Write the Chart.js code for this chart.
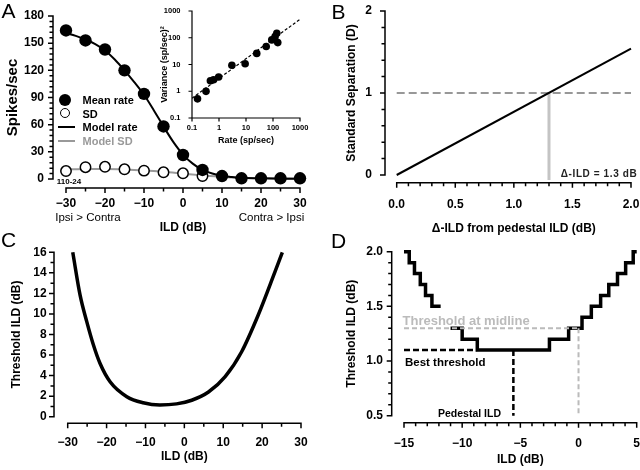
<!DOCTYPE html>
<html><head><meta charset="utf-8">
<script src="https://cdn.jsdelivr.net/npm/chart.js@4.4.1/dist/chart.umd.min.js"></script>
<style>
html,body{margin:0;padding:0;background:#fff;}
#wrap{position:relative;width:640px;height:470px;overflow:hidden;background:#fff;font-family:'Liberation Sans',Arial,sans-serif;}
#wrap canvas{position:absolute;}
.ov{position:absolute;white-space:nowrap;line-height:1;z-index:5;}
.c{transform:translate(-50%,-50%);}
.lv{transform:translate(0,-50%);}
</style></head><body>
<div id="wrap">
  <div class="ov c" style="left:8.5px;top:10px;font-size:21px;">A</div>
  <div class="ov c" style="left:338.5px;top:10.5px;font-size:21px;">B</div>
  <div class="ov c" style="left:8.5px;top:239px;font-size:21px;">C</div>
  <div class="ov c" style="left:338.5px;top:240px;font-size:21px;">D</div>

  <div class="ov" style="left:59px;top:94px;width:12px;height:12px;border-radius:50%;background:#000"></div>
  <div class="ov lv" style="left:82.5px;top:100px;font-size:11px;font-weight:bold;">Mean rate</div>
  <div class="ov" style="left:59.5px;top:107.8px;width:8px;height:8px;border:1.5px solid #000;border-radius:50%;background:#fff"></div>
  <div class="ov lv" style="left:82.5px;top:113.5px;font-size:11px;font-weight:bold;">SD</div>
  <div class="ov" style="left:58px;top:125.8px;width:17px;height:2.5px;background:#000"></div>
  <div class="ov lv" style="left:82.5px;top:127px;font-size:11px;font-weight:bold;">Model rate</div>
  <div class="ov" style="left:58px;top:139.8px;width:17px;height:2.5px;background:#999"></div>
  <div class="ov lv" style="left:82.5px;top:141px;font-size:11px;font-weight:bold;color:#999;">Model SD</div>

  <div class="ov c" style="left:69px;top:182px;font-size:8px;font-weight:bold;">110-24</div>
  <div class="ov c" style="left:88px;top:218px;font-size:11.5px;">Ipsi &gt; Contra</div>
  <div class="ov c" style="left:271.5px;top:218px;font-size:11.5px;">Contra &gt; Ipsi</div>

  <div class="ov c" style="left:599px;top:173.5px;font-size:10px;font-weight:bold;letter-spacing:0.6px;color:#222;">Δ-ILD = 1.3 dB</div>

  <div class="ov lv" style="left:402.5px;top:319.5px;font-size:13px;font-weight:bold;color:#bbb;">Threshold at midline</div>
  <div class="ov lv" style="left:405px;top:362.5px;font-size:11.5px;font-weight:bold;">Best threshold</div>
  <div class="ov lv" style="left:438px;top:413px;font-size:10.5px;font-weight:bold;">Pedestal ILD</div>
</div>
<script>
// ---------------- DATA ----------------
// Panel A: rate vs ILD
const A_ILD = [-30, -25, -20, -15, -10, -5, 0, 5, 10, 15, 20, 25, 30];
const A_MEAN_RATE = [164, 153, 143, 120, 94, 58, 26.5, 10, 3.3, 0.8, 0.8, 0.8, 0.8];
const A_SD = [8.8, 13, 13.5, 10.7, 9.2, 7.4, 6.3, 3.3, null, null, null, null, null];
const A_MODEL_ILD = [-30, -27.5, -25, -22.5, -20, -17.5, -15, -12.5, -10, -7.5, -5, -2.5, 0, 2.5, 5, 7.5, 10, 12.5, 15, 20, 25, 30];
const A_MODEL_RATE = [161, 158, 154, 149, 142, 132, 120, 107, 93, 76, 58, 41, 27, 17, 10, 6, 3.5, 2.2, 1.4, 0.7, 0.4, 0.3];
const A_MODEL_SD_ILD = [-30, -25, -20, -15, -10, -5, 0, 5, 10, 15, 20, 25, 30];
const A_MODEL_SD = [10.5, 11, 11, 10.5, 9.5, 8, 6, 4, 2.3, 1.3, 0.9, 0.7, 0.6];
const A_X_TICKS = [-30, -20, -10, 0, 10, 20, 30];
const A_Y_TICKS = [0, 30, 60, 90, 120, 150, 180];
// Panel A inset: variance vs rate
const INSET_RATE = [0.16, 0.33, 0.48, 0.63, 0.97, 3.0, 9.3, 25, 56, 90, 119, 138, 150];
const INSET_VAR = [0.52, 0.99, 2.46, 2.7, 3.4, 9.4, 10.6, 26, 47, 83, 110, 147, 66];
const INSET_FIT_RATE = [0.1, 1000];
const INSET_FIT_VAR = [0.55, 490];
const INSET_TICKS = [0.1, 1, 10, 100, 1000];
// Panel B: standard separation
const B_DILD = [0, 2.0];
const B_D = [0, 1.54];
const B_CRITERION = 1;
const B_THRESHOLD = 1.3;
const B_X_TICKS = [0, 0.5, 1.0, 1.5, 2.0];
const B_Y_TICKS = [0, 1, 2];
// Panel C: threshold vs ILD
const C_ILD = [-28.7, -26.8, -25.1, -23.4, -21.7, -19.1, -14.8, -10.6, -6.3, -2.0, 1.9, 6.2, 10.5, 14.7, 19.0, 23.3, 25.2];
const C_THRESH = [16, 11.8, 9.25, 7.0, 5.2, 3.4, 1.95, 1.36, 1.14, 1.25, 1.6, 2.4, 3.9, 6.3, 9.9, 14.1, 16];
const C_X_TICKS = [-30, -20, -10, 0, 10, 20, 30];
const C_Y_TICKS = [0, 2, 4, 6, 8, 10, 12, 14, 16];
// Panel D: stepped threshold
const D_LEFT_ILD = [-15, -14.55, -14.1, -13.6, -13.15, -12.6, -11.85];
const D_LEFT_THR = [2.0, 1.9, 1.8, 1.7, 1.6, 1.5, 1.5];
const D_MID_ILD = [-11.0, -10.0, -8.7, -2.5, -0.85, 0.3, 1.1, 1.9, 2.6, 3.35, 4.05, 4.7, 5.0];
const D_MID_THR = [1.3, 1.2, 1.1, 1.2, 1.3, 1.4, 1.5, 1.6, 1.7, 1.8, 1.9, 2.0, 2.0];
const D_BEST_THR = 1.1;
const D_BEST_END_ILD = -8.7;
const D_PEDESTAL_ILD = -5.6;
const D_MIDLINE_THR = 1.3;
const D_MIDLINE_ILD = 0;
const D_X_TICKS = [-15, -10, -5, 0, 5];
const D_Y_TICKS = [0.5, 1.0, 1.5, 2.0];

// ---------------- HELPERS ----------------
const OFF = 40, CW = 640 + 2 * OFF, CH = 470 + 2 * OFF;
Chart.defaults.font.family = "'Liberation Sans', Arial, sans-serif";
Chart.defaults.font.size = 12;
Chart.defaults.font.weight = 'bold';
Chart.defaults.color = '#000';

function steps(a, b, s) { const r = []; for (let v = a; v <= b + 1e-9; v += s) r.push(+v.toFixed(4)); return r; }
function pts(xs, ys) { return xs.map((x, i) => ({ x: x, y: ys[i] })).filter(p => p.y !== null); }
const neg = v => (v < 0 ? '\u2212' + Math.abs(v) : String(v));
const fix1 = v => (v < 0 ? '\u2212' : '') + Math.abs(v).toFixed(1);

function pad(left, top, right, bottom, yW, xH) {
  return { left: left + OFF - yW, top: top + OFF, right: 640 + OFF - right, bottom: 470 + OFF - bottom - xH };
}
function axis(o) {
  return {
    type: o.type || 'linear', min: o.min, max: o.max,
    grid: { display: false, drawTicks: false }, border: { display: false },
    afterBuildTicks: s => { s.ticks = o.ticks.map(v => ({ value: v })); },
    afterFit: s => { if (o.w != null) s.width = o.w; if (o.h != null) s.height = o.h; },
    ticks: { autoSkip: false, maxRotation: 0, minRotation: 0, padding: o.pad, font: { size: o.fs || 12, weight: 'bold' }, color: '#000', callback: o.fmt },
    title: { display: true, text: o.title, font: { size: o.tfs || 12, weight: 'bold' }, color: '#000', padding: { top: o.tpad || 0, bottom: 0 } }
  };
}
const axesDraw = {
  id: 'axesDraw',
  afterDatasetsDraw(chart, args, o) {
    if (!o || !o.x) return;
    const ctx = chart.ctx, ca = chart.chartArea, xs = chart.scales.x, ys = chart.scales.y;
    const lw = o.lw || 1.5, ML = o.majorLen || 5, mL = o.minorLen || 3.5;
    ctx.save();
    ctx.strokeStyle = '#000'; ctx.lineWidth = lw; ctx.lineCap = 'butt';
    const yx = ca.bottom + (o.x.gap || 0);
    const xa = xs.getPixelForValue(o.x.from), xb = xs.getPixelForValue(o.x.to);
    ctx.beginPath();
    ctx.moveTo(xa - lw / 2, yx); ctx.lineTo(xb + lw / 2, yx);
    o.x.major.forEach(v => { const p = xs.getPixelForValue(v); ctx.moveTo(p, yx); ctx.lineTo(p, yx + ML); });
    (o.x.minor || []).forEach(v => { const p = xs.getPixelForValue(v); ctx.moveTo(p, yx); ctx.lineTo(p, yx + mL); });
    const xy = ca.left - (o.y.gap || 0);
    const ya = ys.getPixelForValue(o.y.from), yb = ys.getPixelForValue(o.y.to);
    ctx.moveTo(xy, ya + lw / 2); ctx.lineTo(xy, yb - lw / 2);
    o.y.major.forEach(v => { const p = ys.getPixelForValue(v); ctx.moveTo(xy, p); ctx.lineTo(xy - ML, p); });
    (o.y.minor || []).forEach(v => { const p = ys.getPixelForValue(v); ctx.moveTo(xy, p); ctx.lineTo(xy - mL, p); });
    ctx.stroke();
    ctx.restore();
  }
};
Chart.register(axesDraw);

const wrap = document.getElementById('wrap');
function mk() {
  const c = document.createElement('canvas');
  c.width = CW; c.height = CH;
  c.style.left = -OFF + 'px'; c.style.top = -OFF + 'px';
  c.style.width = CW + 'px'; c.style.height = CH + 'px';
  wrap.insertBefore(c, wrap.firstChild);
  return c;
}
function base(padding, scales, axesOpt) {
  return {
    responsive: false, animation: false, events: [], devicePixelRatio: 1,
    layout: { padding: padding },
    plugins: { legend: { display: false }, tooltip: { enabled: false }, axesDraw: axesOpt },
    scales: scales
  };
}

// ---------------- PANEL A ----------------
new Chart(mk(), {
  type: 'scatter',
  data: { datasets: [
    { data: pts(A_ILD, A_MEAN_RATE), pointRadius: 6.2, pointBackgroundColor: '#000', pointBorderColor: '#000', pointBorderWidth: 0, showLine: false, clip: false, order: 0 },
    { data: pts(A_ILD, A_SD), pointRadius: 5.2, pointBackgroundColor: '#fff', pointBorderColor: '#000', pointBorderWidth: 1.5, showLine: false, clip: false, order: 1 },
    { data: pts(A_MODEL_ILD, A_MODEL_RATE), showLine: true, borderColor: '#000', borderWidth: 2, pointRadius: 0, cubicInterpolationMode: 'monotone', clip: false, order: 2 },
    { data: pts(A_MODEL_SD_ILD, A_MODEL_SD), showLine: true, borderColor: '#999', borderWidth: 2, pointRadius: 0, cubicInterpolationMode: 'monotone', clip: false, order: 3 }
  ]},
  options: base(pad(66, 16, 300, 179, 66, 56.2), {
    x: axis({ min: -30, max: 30, ticks: A_X_TICKS, fmt: neg, pad: 17, h: 56.2, title: 'ILD (dB)' }),
    y: axis({ min: 0, max: 180, ticks: A_Y_TICKS, fmt: v => String(v), pad: 22, w: 66, title: 'Spikes/sec', tfs: 15, tpad: 3.5 })
  }, {
    x: { from: -30, to: 30, gap: 9, major: A_X_TICKS, minor: steps(-25, 25, 10) },
    y: { from: 0, to: 180, gap: 13, major: A_Y_TICKS, minor: steps(0, 180, 6).filter(v => v % 30 !== 0) }
  })
});

// ---------------- INSET ----------------
new Chart(mk(), {
  type: 'scatter',
  data: { datasets: [
    { data: pts(INSET_RATE, INSET_VAR), pointRadius: 3.8, pointBackgroundColor: '#000', pointBorderWidth: 0, showLine: false, clip: false, order: 0 },
    { data: pts(INSET_FIT_RATE, INSET_FIT_VAR), showLine: true, borderColor: '#000', borderWidth: 1.2, borderDash: [3, 2], pointRadius: 0, order: 1 }
  ]},
  options: base(pad(192, 11, 300, 118, 35, 28.4), {
    x: axis({ type: 'logarithmic', min: 0.1, max: 1000, ticks: INSET_TICKS, fmt: v => String(v), pad: 5, h: 28.4, fs: 7.5, tfs: 9, title: 'Rate (sp/sec)' }),
    y: axis({ type: 'logarithmic', min: 0.1, max: 1000, ticks: INSET_TICKS, fmt: v => String(v), pad: 11.5, w: 35, fs: 7.5, tfs: 9, tpad: 2.6, title: 'Variance (sp/sec)\u00B2' })
  }, {
    lw: 1.2, majorLen: 3.5,
    x: { from: 0.1, to: 1000, gap: 0, major: INSET_TICKS },
    y: { from: 0.1, to: 1000, gap: 0, major: INSET_TICKS }
  })
});

// ---------------- PANEL B ----------------
new Chart(mk(), {
  type: 'scatter',
  data: { datasets: [
    { data: pts(B_DILD, B_D), showLine: true, borderColor: '#000', borderWidth: 2, pointRadius: 0, clip: false, order: 0 },
    { data: [{ x: B_DILD[0], y: B_CRITERION }, { x: B_DILD[1], y: B_CRITERION }], showLine: true, borderColor: '#777', borderWidth: 1.5, borderDash: [8, 4], pointRadius: 0, clip: false, order: 3 },
    { data: [{ x: B_THRESHOLD, y: B_CRITERION }, { x: B_THRESHOLD, y: -0.06 }], showLine: true, borderColor: '#c4c4c4', borderWidth: 3, pointRadius: 0, clip: false, order: 2 },
    { data: [{ x: B_THRESHOLD, y: -0.075 }], showLine: false, clip: false, order: 1,
      pointRadius: 5.2, pointStyle: 'triangle', rotation: 180, pointBackgroundColor: '#c4c4c4', pointBorderColor: '#c4c4c4', pointBorderWidth: 0 }
  ]},
  options: base(pad(396.7, 11, 631, 175, 52.2, 60.5), {
    x: axis({ min: 0, max: 2, ticks: B_X_TICKS, fmt: fix1, pad: 22.7, h: 60.5, title: '\u0394-ILD from pedestal ILD (dB)' }),
    y: axis({ min: 0, max: 2, ticks: B_Y_TICKS, fmt: v => String(v), pad: 24.7, w: 52.2, title: 'Standard Separation (D)' })
  }, {
    x: { from: 0, to: 2, gap: 7.7, major: B_X_TICKS, minor: steps(0.1, 1.9, 0.1).filter(v => Math.abs(v * 2 - Math.round(v * 2)) > 1e-6) },
    y: { from: 0, to: 2, gap: 11.7, major: B_Y_TICKS, minor: [0.2, 0.4, 0.6, 0.8, 1.2, 1.4, 1.6, 1.8] }
  })
});

// ---------------- PANEL C ----------------
new Chart(mk(), {
  type: 'scatter',
  data: { datasets: [
    { data: pts(C_ILD, C_THRESH), showLine: true, borderColor: '#000', borderWidth: 3.5, pointRadius: 0, cubicInterpolationMode: 'monotone', clip: false }
  ]},
  options: base(pad(67.7, 252.3, 301, 416.7, 58.2, 47.2), {
    x: axis({ min: -30, max: 30, ticks: C_X_TICKS, fmt: neg, pad: 18.6, h: 47.2, title: 'ILD (dB)' }),
    y: axis({ min: 0, max: 16, ticks: C_Y_TICKS, fmt: v => String(v), pad: 21, w: 58.2, title: 'Threshold ILD (dB)' })
  }, {
    x: { from: -30, to: 30, gap: 6.6, major: C_X_TICKS, minor: steps(-25, 25, 10) },
    y: { from: 0, to: 16, gap: 13.7, major: C_Y_TICKS, minor: steps(1, 15, 2) }
  })
});

// ---------------- PANEL D ----------------
new Chart(mk(), {
  type: 'scatter',
  data: { datasets: [
    { data: [{ x: -15, y: D_MIDLINE_THR }, { x: D_MIDLINE_ILD, y: D_MIDLINE_THR }], showLine: true, borderColor: '#bbb', borderWidth: 2, borderDash: [5, 3], pointRadius: 0, clip: false, order: 0 },
    { data: [{ x: D_MIDLINE_ILD, y: D_MIDLINE_THR }, { x: D_MIDLINE_ILD, y: 0.5 }], showLine: true, borderColor: '#bbb', borderWidth: 2, borderDash: [5, 3], pointRadius: 0, clip: false, order: 0 },
    { data: pts(D_LEFT_ILD, D_LEFT_THR), showLine: true, stepped: 'before', borderColor: '#000', borderWidth: 3.5, pointRadius: 0, clip: false, order: 2 },
    { data: pts(D_MID_ILD, D_MID_THR), showLine: true, stepped: 'before', borderColor: '#000', borderWidth: 3.5, pointRadius: 0, clip: false, order: 2 },
    { data: [{ x: -15, y: D_BEST_THR }, { x: D_BEST_END_ILD, y: D_BEST_THR }], showLine: true, borderColor: '#000', borderWidth: 2.5, borderDash: [6, 3], pointRadius: 0, clip: false, order: 1 },
    { data: [{ x: D_PEDESTAL_ILD, y: D_BEST_THR }, { x: D_PEDESTAL_ILD, y: 0.5 }], showLine: true, borderColor: '#000', borderWidth: 2.5, borderDash: [6, 3], pointRadius: 0, clip: false, order: 1 }
  ]},
  options: base(pad(404, 251.7, 636.7, 415.7, 59.5, 51.5), {
    x: axis({ min: -15, max: 5, ticks: D_X_TICKS, fmt: neg, pad: 20.5, h: 51.5, title: 'ILD (dB)' }),
    y: axis({ min: 0.5, max: 2.0, ticks: D_Y_TICKS, fmt: fix1, pad: 21, w: 59.5, title: 'Threshold ILD (dB)' })
  }, {
    x: { from: -15, to: 5, gap: 7, major: D_X_TICKS, minor: steps(-14, 4, 1).filter(v => v % 5 !== 0) },
    y: { from: 0.5, to: 2.0, gap: 12.3, major: D_Y_TICKS, minor: [0.6, 0.7, 0.8, 0.9, 1.1, 1.2, 1.3, 1.4, 1.6, 1.7, 1.8, 1.9] }
  })
});
</script>
</body></html>
